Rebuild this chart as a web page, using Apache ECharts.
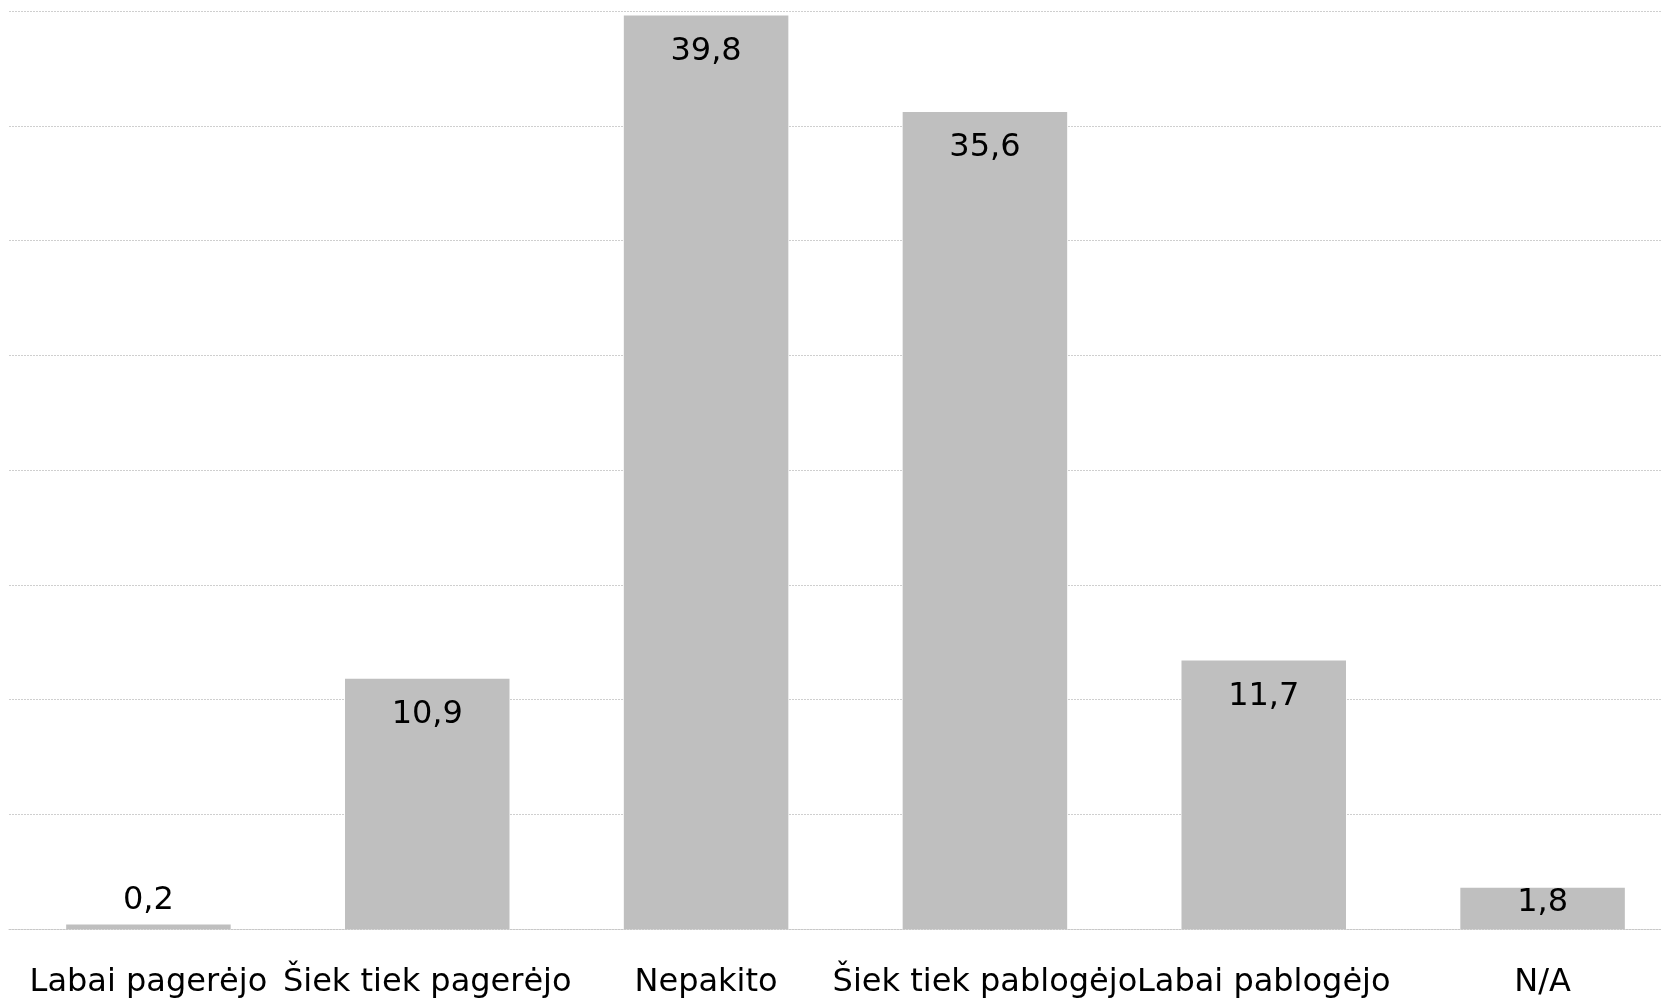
<!DOCTYPE html>
<html>
<head>
<meta charset="utf-8">
<script src="https://cdn.jsdelivr.net/npm/echarts@6/dist/echarts.min.js"></script>
<style>
  html, body { margin: 0; padding: 0; background: #fff; }
  #chart { width: 1661px; height: 1001px; }
</style>
</head>
<body>
<div id="chart"></div>
<script>
// Duomenys
const categories = ['Labai pagerėjo', 'Šiek tiek pagerėjo', 'Nepakito', 'Šiek tiek pablogėjo', 'Labai pablogėjo', 'N/A']
const values     = [0.2, 10.9, 39.8, 35.6, 11.7, 1.8]
// kur dėti reikšmės etiketę (trumpi stulpeliai kitaip)
const labelPos   = ['top', 'insideTop', 'insideTop', 'insideTop', 'insideTop', 'inside']

const FONT = 'DejaVu Sans'

const chart = echarts.init(document.getElementById('chart'))

function labelFor(pos) {
  if (pos === 'top') return { position: 'top', distance: 8 }
  if (pos === 'inside') return { position: 'inside', offset: [0, -6] }
  return { position: pos, distance: 20 }
}

chart.setOption({
  animation: false,
  // plotas išeina šiek tiek už dešinio krašto, kaip originale
  grid: { left: 9, right: -21, top: 11, bottom: 72, containLabel: false, outerBoundsMode: 'none' },
  xAxis: {
    type: 'category',
    data: categories,
    axisLine: { show: true, lineStyle: { color: '#c8c8c8', type: [2, 1], width: 1 } },
    axisTick: { show: false },
    axisLabel: {
      interval: 0,
      margin: 38,
      color: '#000',
      fontFamily: FONT,
      fontSize: 32,
    },
  },
  yAxis: {
    type: 'value',
    min: 0,
    max: 40,
    interval: 5,
    axisLabel: { show: false },
    axisLine: { show: false },
    axisTick: { show: false },
    splitLine: { lineStyle: { color: '#cfcfcf', type: [2, 1], width: 1 } },
  },
  series: [{
    type: 'bar',
    barWidth: '59%',
    itemStyle: { color: '#bfbfbf' },
    data: values.map((v, i) => ({ value: v, label: labelFor(labelPos[i]) })),
    label: {
      show: true,
      color: '#000',
      fontFamily: FONT,
      fontSize: 32,
      formatter: p => String(p.value).replace('.', ','),
    },
  }],
})
</script>
</body>
</html>
